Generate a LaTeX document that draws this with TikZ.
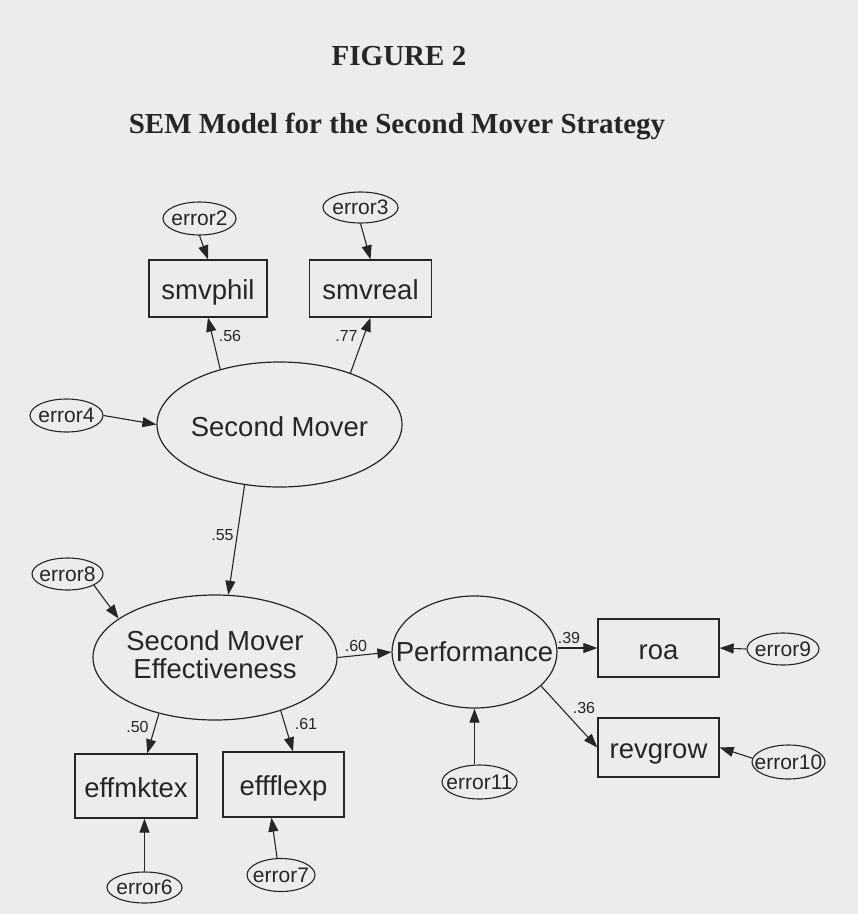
\documentclass[tikz,border=0pt]{standalone}
\usepackage{fontspec}
\setmainfont{Liberation Serif}
\newfontfamily\arialfont{Liberation Sans}
\usetikzlibrary{shapes.geometric,arrows.meta}
\definecolor{paper}{RGB}{236,236,236}
\definecolor{ink}{RGB}{38,38,38}
% zero-width box so that a label never enlarges its ellipse
\newcommand{\zw}[1]{\makebox[0pt]{#1}}
\begin{document}
\begin{tikzpicture}[x=1pt,y=-1pt,
  every node/.style={text=ink},
  obs/.style={draw=ink, line width=1.3pt, rectangle, inner sep=0pt,
    text height=25pt, text depth=3pt,
    font=\arialfont\fontsize{27.5}{28}\selectfont},
  lat/.style={draw=ink, line width=1.2pt, ellipse, inner sep=0pt,
    font=\arialfont\fontsize{27.5}{28}\selectfont},
  err/.style={draw=ink, line width=1.1pt, ellipse, inner sep=0pt,
    font=\arialfont\fontsize{21}{23}\selectfont},
  coef/.style={inner sep=0pt, font=\arialfont\fontsize{16}{18}\selectfont},
  link/.style={draw=ink, line width=1.1pt, -{Triangle[length=14pt,width=10pt]}},
  heading/.style={inner sep=0pt, anchor=base, font=\bfseries\fontsize{29}{32}\selectfont},
]
\fill[paper] (0,0) rectangle (858,914);
\useasboundingbox (0,0) rectangle (858,914);

% headings
\node[heading] (fig) at (399,65) {FIGURE 2};
\node[heading] (caption) at (397,133) {SEM Model for the Second Mover Strategy};

% latent variables
\node[lat, minimum width=245pt, minimum height=125pt] (sm) at (279.5,424.5)
  {\zw{\raisebox{-2pt}[20pt][0pt]{Second Mover}}};
\node[lat, minimum width=244pt, minimum height=125pt] (sme) at (215,657.5)
  {\zw{\raisebox{-7.5pt}[0pt][0pt]{\begin{tabular}{@{}c@{}}Second Mover\\Effectiveness\end{tabular}}}};
\node[lat, minimum width=165pt, minimum height=112pt] (perf) at (474.5,652) {\zw{Performance}};

% observed indicators
\node[obs, minimum width=118pt, minimum height=57pt] (smvphil) at (208,288.5) {smvphil};
\node[obs, minimum width=122pt, minimum height=57pt] (smvreal) at (370.5,288.5) {smvreal};
\node[obs, minimum width=121pt, minimum height=58pt] (roa) at (658.5,648) {roa};
\node[obs, minimum width=121pt, minimum height=59pt] (revgrow) at (658.5,747.5) {revgrow};
\node[obs, minimum width=122pt, minimum height=64pt] (effmktex) at (136,786) {effmktex};
\node[obs, minimum width=121pt, minimum height=65pt] (effflexp) at (283.5,784.5) {effflexp};

% error terms
\node[err, minimum width=73pt, minimum height=33pt] (e2) at (199.5,218.5) {\zw{error2}};
\node[err, minimum width=75pt, minimum height=31pt] (e3) at (360.5,207.5) {\zw{error3}};
\node[err, minimum width=73pt, minimum height=33pt] (e4) at (66.5,415.5) {\zw{error4}};
\node[err, minimum width=71pt, minimum height=32pt] (e8) at (67.5,574) {\zw{error8}};
\node[err, minimum width=72pt, minimum height=32pt] (e9) at (783,649) {\zw{error9}};
\node[err, minimum width=73pt, minimum height=34pt] (e10) at (788.5,762) {\zw{error10}};
\node[err, minimum width=75pt, minimum height=34pt] (e11) at (479.5,782) {\zw{error11}};
\node[err, minimum width=75pt, minimum height=31pt] (e6) at (144.5,887.5) {\zw{error6}};
\node[err, minimum width=68pt, minimum height=33pt] (e7) at (281,875) {\zw{error7}};

% paths
\draw[link] (e2.south) -- (smvphil.north);
\draw[link] (e3.south) -- (smvreal.north);
\draw[link] (sm.137) -- (smvphil.south);
\draw[link] (sm.36) -- (smvreal.south);
\draw[link] (e4.east) -- (sm.west);
\draw[link] (sm.240) -- (sme.78);
\draw[link] (e8.-23) -- (sme.158);
\draw[link] (sme.east) -- (perf.west);
\draw[link] (perf.east |- roa.west) -- (roa.west);
\draw[link] (perf.-27) -- (revgrow.west);
\draw[link] (e9.west) -- (roa.east);
\draw[link] (e10.174) -- (revgrow.east);
\draw[link] (perf.south |- e11.north) -- (perf.south);
\draw[link] (sme.225) -- (effmktex.71);
\draw[link] (sme.-39) -- (effflexp.74);
\draw[link] (e6.north) -- (e6.north |- effmktex.south);
\draw[link] (e7.103) -- (effflexp.250);

% standardized coefficients
\node[coef] (c56) at (230,336) {.56};
\node[coef] (c77) at (346.5,336) {.77};
\node[coef] (c55) at (222.5,535) {.55};
\node[coef] (c60) at (356,646) {.60};
\node[coef] (c50) at (137.5,727) {.50};
\node[coef] (c61) at (306,724) {.61};
\node[coef] (c39) at (569,638) {.39};
\node[coef] (c36) at (584,707.5) {.36};
\end{tikzpicture}
\end{document}
